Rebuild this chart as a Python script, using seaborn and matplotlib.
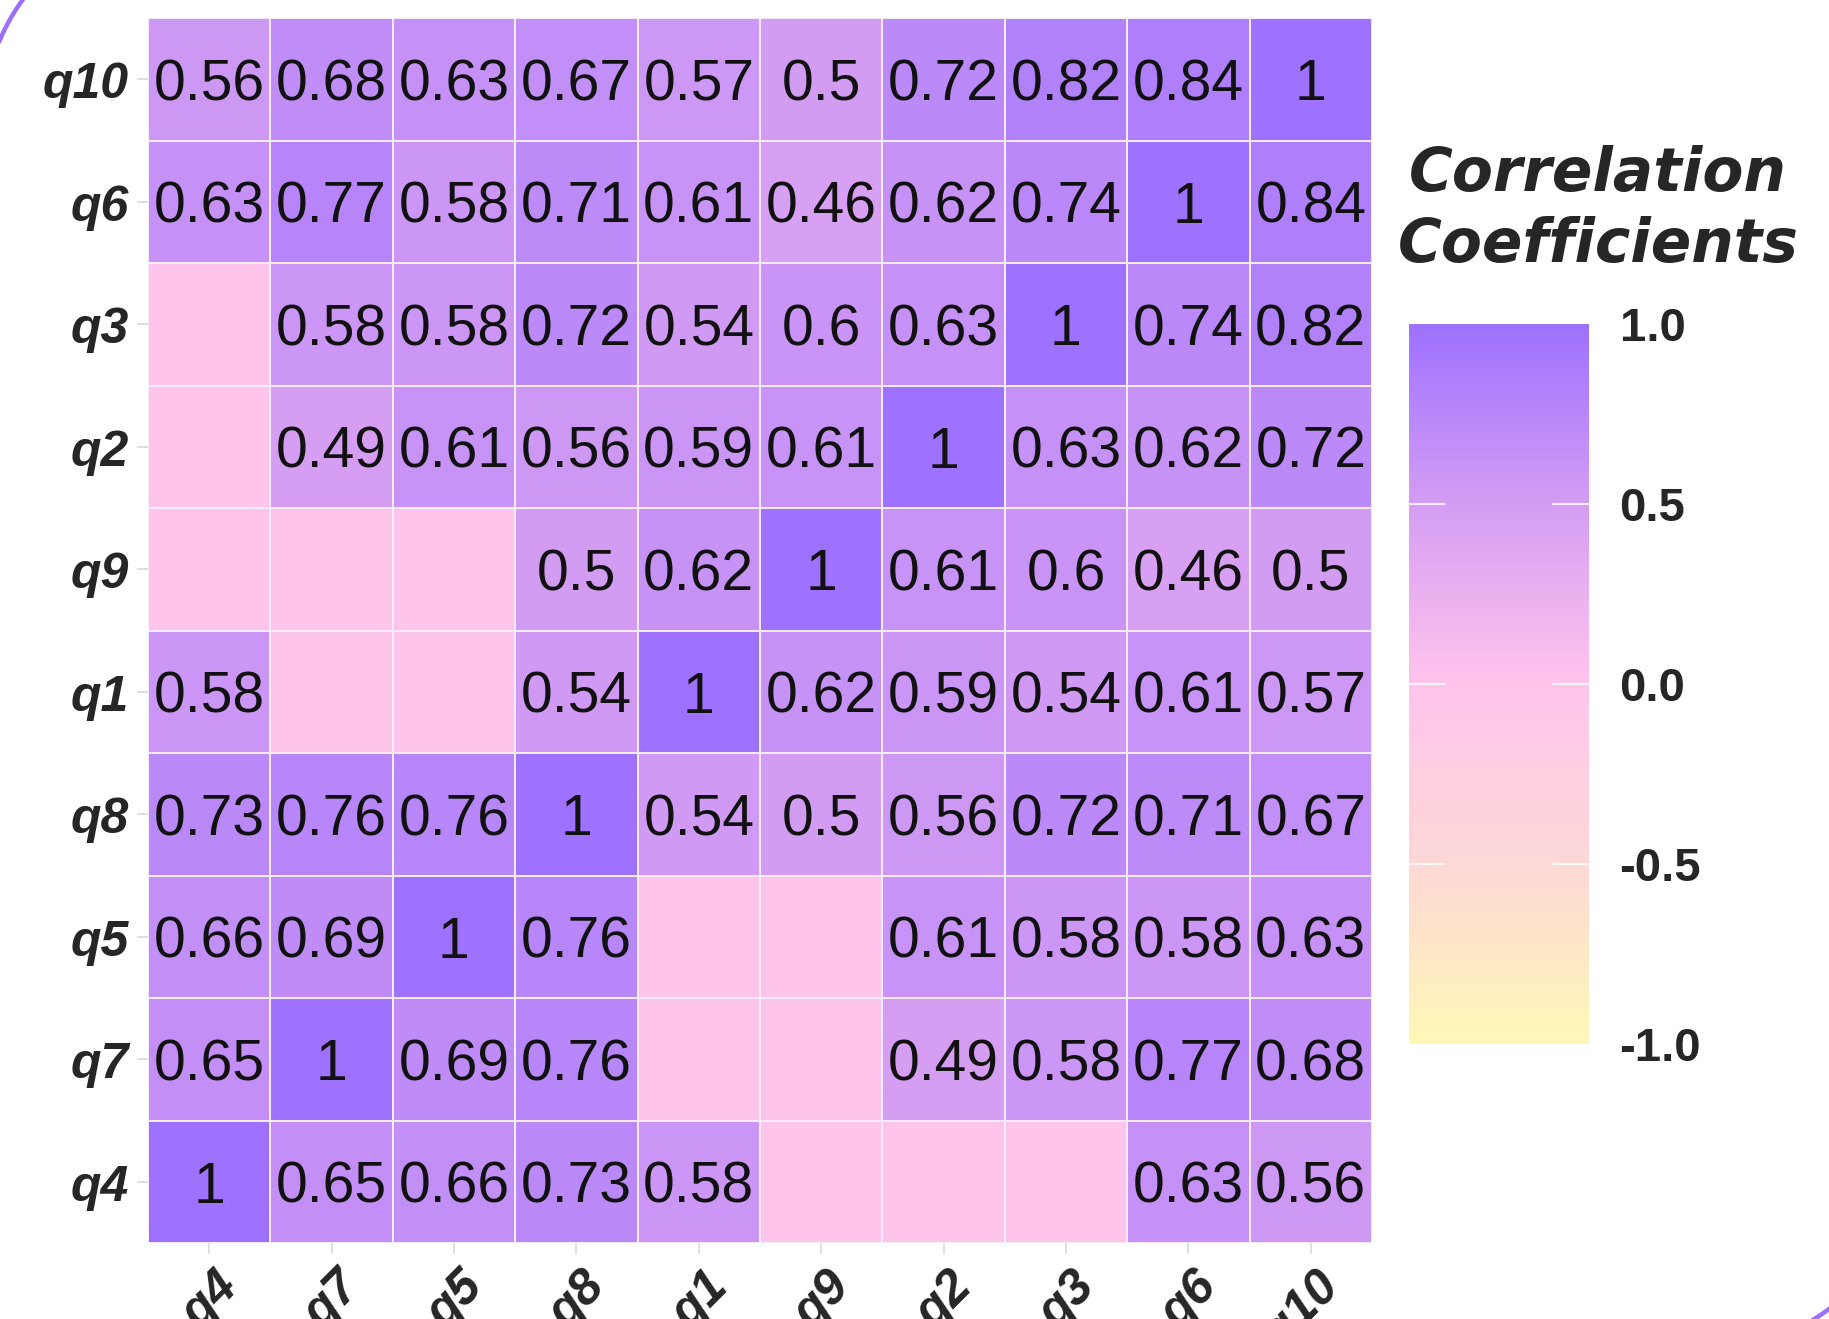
import numpy as np
import pandas as pd
import matplotlib
matplotlib.use("Agg")
import matplotlib.pyplot as plt
import seaborn as sns
from matplotlib.colors import LinearSegmentedColormap
from matplotlib.transforms import ScaledTranslation

# Item order along each axis
row_items = ["q10", "q6", "q3", "q2", "q9", "q1", "q8", "q5", "q7", "q4"]
col_items = ["q4", "q7", "q5", "q8", "q1", "q9", "q2", "q3", "q6", "q10"]

# Significant correlations (None = not significant, shown as 0 without a label)
r_q10 = [0.56, 0.68, 0.63, 0.67, 0.57, 0.5, 0.72, 0.82, 0.84, 1]
r_q6 = [0.63, 0.77, 0.58, 0.71, 0.61, 0.46, 0.62, 0.74, 1, 0.84]
r_q3 = [None, 0.58, 0.58, 0.72, 0.54, 0.6, 0.63, 1, 0.74, 0.82]
r_q2 = [None, 0.49, 0.61, 0.56, 0.59, 0.61, 1, 0.63, 0.62, 0.72]
r_q9 = [None, None, None, 0.5, 0.62, 1, 0.61, 0.6, 0.46, 0.5]
r_q1 = [0.58, None, None, 0.54, 1, 0.62, 0.59, 0.54, 0.61, 0.57]
r_q8 = [0.73, 0.76, 0.76, 1, 0.54, 0.5, 0.56, 0.72, 0.71, 0.67]
r_q5 = [0.66, 0.69, 1, 0.76, None, None, 0.61, 0.58, 0.58, 0.63]
r_q7 = [0.65, 1, 0.69, 0.76, None, None, 0.49, 0.58, 0.77, 0.68]
r_q4 = [1, 0.65, 0.66, 0.73, 0.58, None, None, None, 0.63, 0.56]

cbar_ticks = [-1.0, -0.5, 0.0, 0.5, 1.0]

rows = [r_q10, r_q6, r_q3, r_q2, r_q9, r_q1, r_q8, r_q5, r_q7, r_q4]
corr = pd.DataFrame(rows, index=row_items, columns=col_items, dtype=float)
fill = corr.fillna(0.0)
labels = corr.map(lambda v: "" if pd.isna(v) else f"{v:g}").values

sns.set_theme(style="white")
plt.rcParams["axes.unicode_minus"] = False
plt.rcParams["font.family"] = ["Liberation Sans", "DejaVu Sans"]

cmap = LinearSegmentedColormap.from_list(
    "corr_grad",
    [(0.0, "#FFF7B6"), (0.25, "#FDD8D6"), (0.5, "#FFC4EC"),
     (0.75, "#D49DF3"), (1.0, "#9E71FE")],
)

W, H = 1829, 1319
fig = plt.figure(figsize=(W / 100, H / 100), dpi=100)
fig.patch.set_facecolor("white")

ax = fig.add_axes([148 / W, 1 - 1243 / H, 1224 / W, 1225 / H])
cax = fig.add_axes([1409 / W, 1 - 1044 / H, 180 / W, 720 / H])

sns.heatmap(
    fill, ax=ax, cbar_ax=cax, cmap=cmap, vmin=-1, vmax=1,
    annot=labels, fmt="",
    annot_kws={"fontsize": 41, "color": "#111111", "family": "Liberation Sans"},
    linewidths=1.4, linecolor="#F3EAFB",
)

down = ScaledTranslation(0, -6 / 100, fig.dpi_scale_trans)
for t in ax.texts:
    t.set_transform(t.get_transform() + down)

# Axis labels and ticks
ax.set_xlabel("")
ax.set_ylabel("")
ax.tick_params(axis="both", which="both", length=8, width=1.3, color="#DDDDDD",
               pad=6, bottom=True, left=True)
for t in ax.get_yticklabels():
    t.set_fontsize(36)
    t.set_fontweight("bold")
    t.set_fontstyle("italic")
    t.set_rotation(0)
    t.set_va("center")
    t.set_transform(t.get_transform() + down)
right = ScaledTranslation(5 / 100, 0, fig.dpi_scale_trans)
for t in ax.get_xticklabels():
    t.set_fontsize(36)
    t.set_fontweight("bold")
    t.set_fontstyle("italic")
    t.set_rotation(45)
    t.set_ha("right")
    t.set_va("top")
    t.set_rotation_mode("anchor")
    t.set_transform(t.get_transform() + right)

# Colour bar styling
cbar = ax.collections[0].colorbar
cbar.outline.set_visible(False)
cbar.set_ticks(cbar_ticks)
cbar.set_ticklabels([f"{v:.1f}" for v in cbar_ticks])
cax.tick_params(length=0, pad=22)
for t in cax.get_yticklabels():
    t.set_fontsize(34)
    t.set_fontweight("bold")
for v in cbar_ticks[1:-1]:
    cax.plot([0, 0.2], [v, v], color="white", lw=1.5, alpha=0.8,
             transform=cax.get_yaxis_transform())
    cax.plot([0.8, 1], [v, v], color="white", lw=1.5, alpha=0.8,
             transform=cax.get_yaxis_transform())

fig.text(1598 / W, 1 - 210 / H, "Correlation\nCoefficients",
         ha="center", va="center", fontsize=43, fontweight="bold",
         fontstyle="italic", family=["DejaVu Sans"], linespacing=1.25)


def corner_arc(cx, cy, r, a0, a1, n=80):
    """Quarter-circle corner of the decorative frame, in pixel units (y up)."""
    a = np.linspace(np.radians(a0), np.radians(a1), n)
    return cx + r * np.cos(a), cy + r * np.sin(a)


# Decorative frame corners peeking in at top-left and bottom-right
frame_ax = fig.add_axes([0, 0, 1, 1], zorder=5)
frame_ax.set_xlim(0, W)
frame_ax.set_ylim(0, H)
frame_ax.axis("off")
frame_ax.patch.set_alpha(0)
for cx, cy, a0, a1 in [(184, 1201, 90, 180), (1709, 170, 270, 360)]:
    fx, fy = corner_arc(cx, cy, 200, a0, a1)
    frame_ax.plot(fx, fy, color="#9D6FFF", lw=3.2, solid_capstyle="round")

fig.savefig("out.png", dpi=100)
